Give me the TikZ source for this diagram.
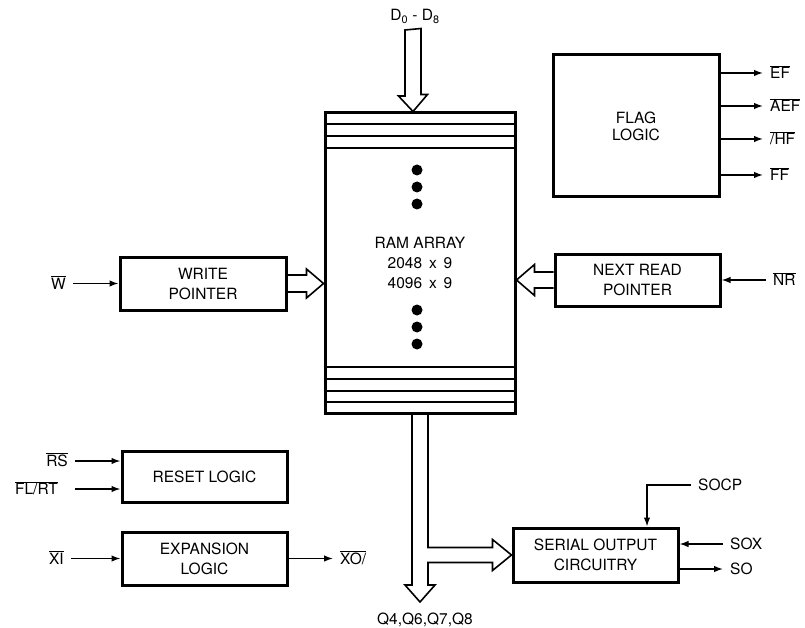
\documentclass[tikz,border=0pt]{standalone}
\usepackage{fontspec}
\setmainfont{TeX Gyre Heros}
\usetikzlibrary{calc,arrows.meta}
\newcommand{\ovl}[1]{$\overline{\mbox{#1}}$}

\begin{document}
\begin{tikzpicture}[x=1pt,y=-1pt,
  every node/.style={font=\fontsize{15.5}{20}\selectfont},
  blk/.style={draw,line width=3pt,inner sep=0pt,align=center},
  sig/.style={line width=1.4pt,-{Latex[length=9pt,width=6.5pt]}},
  bus/.style={line width=1.6pt,line join=miter},
  pin/.style={inner xsep=7pt,inner ysep=0pt,text height=11pt,text depth=0pt}]
\useasboundingbox (0,0) rectangle (805,628);
% blocks
\node[blk,minimum width=190pt,minimum height=300pt] (ram) at (420,263) {RAM ARRAY\\2048 \,x\, 9\\4096 \,x\, 9};
\node[blk,minimum width=166pt,minimum height=142pt] (flag) at (636,126) {FLAG\\[-3pt]LOGIC};
\node[blk,minimum width=166pt,minimum height=53pt] (wp) at (203,283.5) {WRITE\\POINTER};
\node[blk,minimum width=165pt,minimum height=52pt] (nrp) at (637.5,280) {NEXT READ\\POINTER};
\node[blk,minimum width=165pt,minimum height=51pt] (rst) at (204.5,476.5) {RESET LOGIC};
\node[blk,minimum width=165pt,minimum height=53pt] (exp) at (204.5,558.5) {EXPANSION\\LOGIC};
\node[blk,minimum width=165pt,minimum height=54pt] (soc) at (595.5,555) {SERIAL OUTPUT\\CIRCUITRY};
% ram stripes and dots
\foreach \y in {124,136,148,367,379,391,402}
  \draw[line width=2pt] (ram.west |- 0,\y) -- (ram.east |- 0,\y);
\foreach \y in {170,187,204,310,327,344}
  \fill (417,\y) circle (5.5pt);
% pins
\node[pin] (dlab) at (415,15) {D\textsubscript{0} - D\textsubscript{8}};
\node[pin] (qlab) at (425,619) {Q4,Q6,Q7,Q8};
\node[pin,anchor=east] (w) at (73,283.5) {\ovl{W}};
\node[pin,anchor=west] (nr) at (766,280) {\ovl{NR}};
\node[pin,anchor=east] (rs) at (75,461) {\ovl{RS}};
\node[pin,anchor=east] (fl) at (65,489) {\ovl{FL/RT}};
\node[pin,anchor=east] (xi) at (71,558.5) {\ovl{XI}};
\node[pin,anchor=west] (xo) at (333,558.5) {\ovl{XO/}};
\node[pin,anchor=west] (ef) at (763,73) {\ovl{EF}};
\node[pin,anchor=west] (aef) at (763,106) {\ovl{AEF}};
\node[pin,anchor=west] (hf) at (763,139) {\ovl{/HF}};
\node[pin,anchor=west] (ff) at (763,175) {\ovl{FF}};
\node[pin,anchor=west] (socp) at (691,485) {SOCP};
\node[pin,anchor=west] (sox) at (723,544) {SOX};
\node[pin,anchor=west] (so) at (723,569) {SO};
% signal lines
\draw[sig] (w) -- (wp);
\draw[sig] (nr) -- (nrp);
\draw[sig] (rs.east) -- (rs.east -| rst.west);
\draw[sig] (fl.east -| rs.east) -- (fl.east -| rst.west);
\draw[sig] (xi) -- (exp);
\draw[sig] (exp) -- (xo);
\foreach \p in {ef,aef,hf,ff}
  \draw[sig] (\p -| flag.east) -- (\p.west);
\draw[sig] (socp.west) -| ($(soc.north)+(51.5,0)$);
\draw[sig] (sox.west) -- (sox.west -| soc.east);
\draw[sig] (so.west -| soc.east) -- (so.west);
% buses
\coordinate (dtop) at (413,30);
\coordinate (qtip) at (420,602);
\draw[bus] ($(dtop)+(-8,0)$) -- ++(0,66) -- ++(-6.5,0) -- (dtop |- ram.north) -- ++(14.5,-17) -- ++(-6.5,0) -- ++(0,-66) -- cycle;
\draw[bus] ($(wp.east)+(0,-8.5)$) -- ($(ram.west|-wp.east)+(-17,-8.5)$) -- ++(0,-6) -- (ram.west|-wp.east) -- ++(-17,14.5) -- ++(0,-6) -- ($(wp.east)+(0,8.5)$);
\draw[bus] ($(nrp.west)+(0,-8)$) -- ($(ram.east|-nrp.west)+(18,-8)$) -- ++(0,-7.5) -- (ram.east|-nrp.west) -- ++(18,15.5) -- ++(0,-7.5) -- ($(nrp.west)+(0,8)$);
\draw[bus] ($(ram.south)+(-8,0)$) -- ($(qtip)+(-8,-17)$) -- ++(-7,0) -- (qtip) -- ++(15,-17) -- ++(-7,0) |- ($(soc.west)+(-19,7.5)$) -- ++(0,8) -- (soc.west) -- ++(-19,-15.5) -- ++(0,8) -| ($(ram.south)+(8,0)$);
\end{tikzpicture}
\end{document}
